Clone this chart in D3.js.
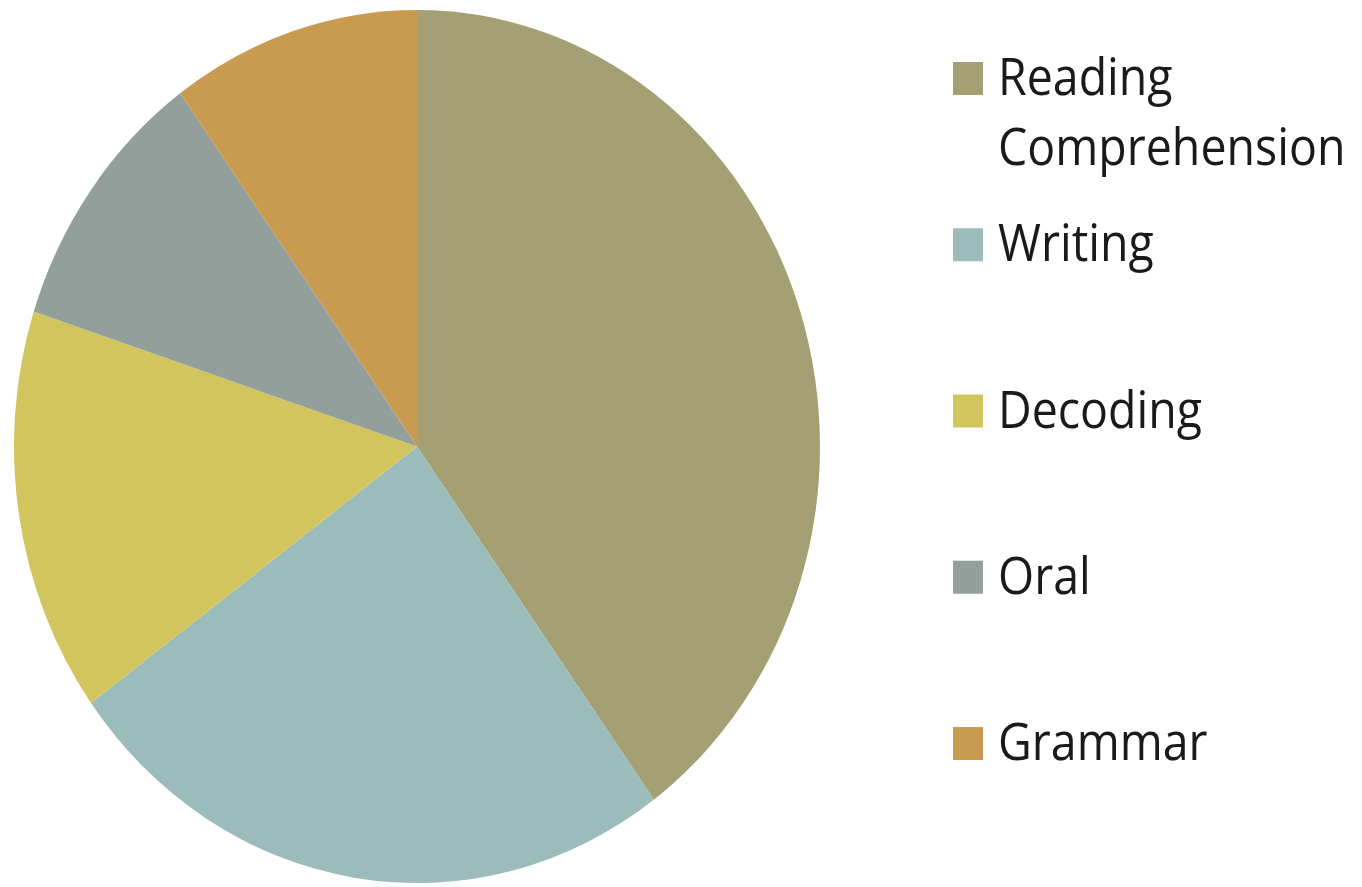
<!DOCTYPE html>
<html>
<head>
<meta charset="utf-8">
<script src="https://cdn.jsdelivr.net/npm/d3@7"></script>
<style>
html,body{margin:0;padding:0;background:#fff;}
svg{display:block;}
</style>
</head>
<body>
<svg id="chart" width="1362" height="887"></svg>
<script>
const categories = ["Reading Comprehension", "Writing", "Decoding", "Oral", "Grammar"];
const legendLines = [["Reading", "Comprehension"], ["Writing"], ["Decoding"], ["Oral"], ["Grammar"]];
const values = [40, 25, 15, 10, 10];
const colors = ["#a5a073", "#9bbcbb", "#d3c55d", "#929f9b", "#c99b50"];

const svg = d3.select("#chart");
const cx = 417, cy = 446.5, rx = 403, ry = 436.5;
const sy = ry / rx;

const pie = d3.pie().sort(null).value(d => d);
const arc = d3.arc().innerRadius(0).outerRadius(rx);
const color = d3.scaleOrdinal().domain(categories).range(colors);

const g = svg.append("g").attr("transform", `translate(${cx},${cy}) scale(1,${sy})`);
g.selectAll("path")
  .data(pie(values))
  .join("path")
  .attr("d", arc)
  .attr("fill", (d, i) => color(categories[i]));

const legendY = d3.scaleLinear().domain([0, 4]).range([62, 727]);
const lg = svg.append("g");
categories.forEach((c, i) => {
  const y0 = legendY(i);
  lg.append("rect").attr("x", 953).attr("y", y0).attr("width", 30).attr("height", 33).attr("fill", color(c));
  legendLines[i].forEach((ln, j) => {
    const by = y0 + 33 + j * 70;
    lg.append("text")
      .attr("transform", `translate(998,${by}) scale(1,${sy})`)
      .attr("font-family", "'Open Sans', sans-serif")
      .attr("font-size", 46.5)
      .attr("fill", "#1a1a1a")
      .text(ln);
  });
});
</script>
</body>
</html>
